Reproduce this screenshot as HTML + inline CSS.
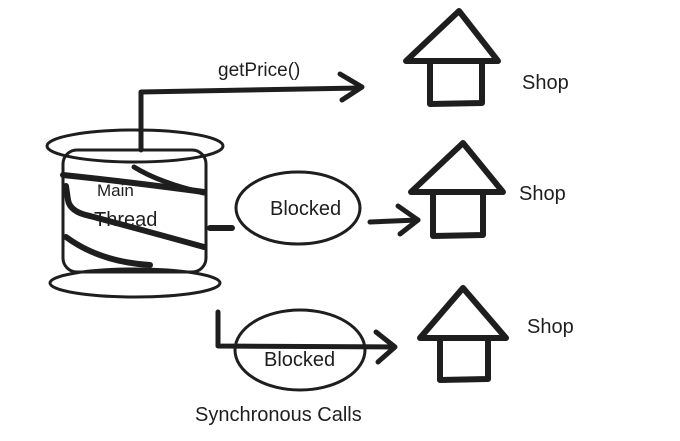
<!DOCTYPE html>
<html><head><meta charset="utf-8"><style>
html,body{margin:0;padding:0;background:#fff;}
svg{display:block}
text{font-family:"Liberation Sans",sans-serif;fill:#1e1e1e}
</style></head><body>
<svg width="680" height="441" viewBox="0 0 680 441" xmlns="http://www.w3.org/2000/svg">
<g fill="none" stroke="#1e1e1e" stroke-linecap="round" stroke-linejoin="round">
<!-- cylinder -->
<ellipse cx="135" cy="146" rx="88" ry="16" stroke-width="3"/>
<rect x="63" y="150" width="143" height="122" rx="14" stroke-width="3"/>
<ellipse cx="135" cy="283" rx="85" ry="14" stroke-width="3"/>
<path d="M63 175 Q130 182 204 192" stroke-width="6"/>
<path d="M134 167 Q160 183 204 193" stroke-width="5"/>
<path d="M66 186 L68 200 Q70 212 90 216 Q150 232 204 247" stroke-width="6"/>
<path d="M66 237 Q100 262 150 265" stroke-width="6"/>
<!-- top arrow -->
<path d="M141 150 L141 92 L360 88" stroke-width="5"/>
<path d="M340 74 L362 87 L342 100" stroke-width="5"/>
<!-- middle -->
<path d="M210 228 L232 228" stroke-width="6"/>
<ellipse cx="298" cy="208" rx="62" ry="36" stroke-width="3"/>
<path d="M370 222 L418 220" stroke-width="5"/>
<path d="M398 206 L418 220 L400 234" stroke-width="5"/>
<!-- bottom -->
<ellipse cx="300" cy="350" rx="65" ry="40" stroke-width="3"/>
<path d="M218 312 L218 346 L394 347" stroke-width="5"/>
<path d="M376 332 L395 347 L378 362" stroke-width="5"/>
<!-- houses -->
<path d="M406 61 L459 11 L498 61 Z" stroke-width="6"/>
<path d="M430 61 L430 104 L482 103 L482 61" stroke-width="6"/>
<path d="M411 192 L463 143 L503 192 Z" stroke-width="6"/>
<path d="M433 192 L433 236 L483 235 L483 192" stroke-width="6"/>
<path d="M420 338 L463 288 L506 338 Z" stroke-width="6"/>
<path d="M440 338 L440 380 L488 379 L488 338" stroke-width="6"/>
</g>
<text x="97" y="196" font-size="17">Main</text>
<text x="94" y="226" font-size="20">Thread</text>
<text x="218" y="76" font-size="19">getPrice()</text>
<text x="270" y="215" font-size="20">Blocked</text>
<text x="264" y="366" font-size="20">Blocked</text>
<text x="195" y="421" font-size="20">Synchronous Calls</text>
<text x="522" y="89" font-size="20">Shop</text>
<text x="519" y="200" font-size="20">Shop</text>
<text x="527" y="333" font-size="20">Shop</text>
</svg>
</body></html>
